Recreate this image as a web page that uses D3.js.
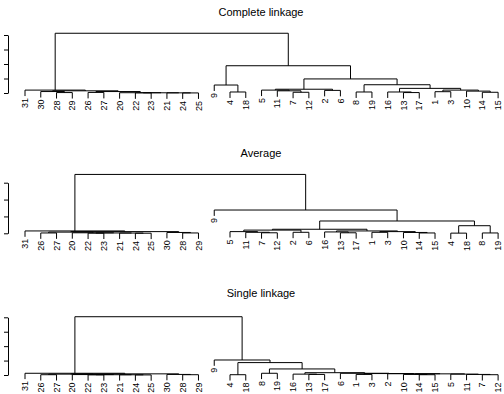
<!DOCTYPE html>
<html>
<head>
<meta charset="utf-8">
<script src="https://cdnjs.cloudflare.com/ajax/libs/d3/7.8.5/d3.min.js"></script>
<style>
  body { margin: 0; background: #fff; }
  text { font-family: "Liberation Sans", Arial, sans-serif; fill: #000; }
</style>
</head>
<body>
<div id="chart"></div>
<script>
// merge tables in the same form as R's hclust: negative = observation, positive = earlier merge row
// each row: [left, right, height]
var completeMerge = [
  [-7, -12, 0.05], [-11, 1, 0.15], [-5, 2, 0.2], [-2, -6, 0.18], [3, 4, 0.26],
  [-8, -19, 0.07], [-13, -17, 0.03], [-16, 7, 0.07], [-1, -3, 0.09], [-14, -15, 0.05],
  [-10, 10, 0.13], [9, 11, 0.2], [8, 12, 0.32], [6, 13, 0.57], [5, 14, 0.97],
  [-4, -18, 0.07], [-9, 16, 0.55], [17, 15, 1.88],
  [-28, -29, 0.03], [-30, 19, 0.1], [-26, -27, 0.04], [-22, -23, 0.01], [-24, -25, 0.005],
  [-21, 23, 0.01], [22, 24, 0.015], [-20, 25, 0.02], [21, 26, 0.1], [20, 27, 0.15],
  [-31, 28, 0.2], [29, 18, 4.12]
];
var completeTicks = [0, 1, 2, 3, 4];

var averageMerge = [
  [-7, -12, 0.03], [-11, 1, 0.06], [-5, 2, 0.1], [-2, -6, 0.06], [3, 4, 0.19],
  [-13, -17, 0.03], [-16, 6, 0.08], [-1, -3, 0.06], [-14, -15, 0.02], [-10, 9, 0.05],
  [8, 10, 0.1], [7, 11, 0.14], [5, 12, 0.24], [-4, -18, 0.01], [-8, -19, 0.02],
  [14, 15, 0.45], [13, 16, 0.73], [-9, 17, 1.38],
  [-26, -27, 0.02], [-22, -23, 0.01], [-24, -25, 0.005], [-21, 21, 0.015], [20, 22, 0.02],
  [-20, 23, 0.03], [19, 24, 0.07], [-28, -29, 0.02], [-30, 26, 0.05], [25, 27, 0.1],
  [-31, 28, 0.14], [29, 18, 3.49]
];
var averageTicks = [0, 1, 2, 3];

var singleMerge = [
  [-13, -17, 0.02], [-16, 1, 0.03], [-1, -3, 0.02], [-14, -15, 0.01], [-10, 4, 0.02],
  [-7, -12, 0.01], [-11, 6, 0.02], [-5, 7, 0.03], [5, 8, 0.04], [-2, 9, 0.045],
  [3, 10, 0.05], [-6, 11, 0.06], [2, 12, 0.08], [-8, -19, 0.06], [14, 13, 0.21],
  [-4, -18, 0.01], [16, 15, 0.43], [-9, 17, 0.52],
  [-26, -27, 0.01], [-22, -23, 0.005], [-24, -25, 0.003], [-21, 21, 0.008], [20, 22, 0.01],
  [-20, 23, 0.015], [19, 24, 0.03], [-28, -29, 0.01], [-30, 26, 0.02], [25, 27, 0.04],
  [-31, 28, 0.06], [29, 18, 2.02]
];
var singleTicks = [0, 0.5, 1, 1.5, 2];

var titles = ["Complete linkage", "Average", "Single linkage"];

var width = 504, height = 394;
var hang = 0.1;

// vertical placement of each panel (title baseline, y of tick 0, y of top tick)
var panels = [
  {title: titles[0], merge: completeMerge, ticks: completeTicks, titleY: 16, yBase: 93, yTop: 35},
  {title: titles[1], merge: averageMerge, ticks: averageTicks, titleY: 157, yBase: 233.3, yTop: 182.7},
  {title: titles[2], merge: singleMerge, ticks: singleTicks, titleY: 297, yBase: 375, yTop: 317.3}
];

var svg = d3.select("#chart").append("svg")
    .attr("width", width)
    .attr("height", height);

/**
 * Leaf order from left to right, walking the merge table from the last row
 */
function leafOrder(merge, k) {
    if (k < 0) return [-k];
    return leafOrder(merge, merge[k-1][0]).concat(leafOrder(merge, merge[k-1][1]));
}

function drawPanel(p) {
    var merge = p.merge;
    var order = leafOrder(merge, merge.length).map(String);
    var maxH = d3.max(merge, function(d) {return d[2];});
    var hangH = hang * maxH;

    var x = d3.scalePoint().domain(order).range([25, 498.1]);
    var y = d3.scaleLinear().domain([0, d3.max(p.ticks)]).range([p.yBase, p.yTop]);

    var g = svg.append("g");

    g.append("text")
        .attr("x", 261)
        .attr("y", p.titleY)
        .attr("text-anchor", "middle")
        .style("font-size", "11px")
        .text(p.title);

    g.append("g")
        .attr("transform", "translate(8,0)")
        .call(d3.axisLeft(y).tickValues(p.ticks).tickSize(4).tickSizeOuter(0).tickFormat(""))
        .call(function(a) {a.selectAll("path,line").attr("stroke", "#000");});

    // x of every merge is the midpoint of its two children
    var nodeX = [];
    function xOf(k) {return k < 0 ? x(String(-k)) : nodeX[k-1];}
    merge.forEach(function(m, i) {nodeX[i] = (xOf(m[0]) + xOf(m[1])) / 2;});

    var segs = [];
    var labels = [];
    merge.forEach(function(m) {
        var h = m[2];
        var ends = [m[0], m[1]].map(function(k) {
            var ky;
            if (k < 0) {
                ky = y(h - hangH);
                labels.push({label: String(-k), x: xOf(k), y: ky});
            } else {
                ky = y(merge[k-1][2]);
            }
            return {x: xOf(k), y: ky};
        });
        segs.push("M" + ends[0].x + "," + ends[0].y + "V" + y(h) + "H" + ends[1].x + "V" + ends[1].y);
    });

    g.selectAll("path.branch").data(segs).enter()
        .append("path")
        .attr("class", "branch")
        .attr("d", function(d) {return d;})
        .attr("fill", "none")
        .attr("stroke", "#000")
        .attr("stroke-width", 1);

    g.selectAll("text.leaf").data(labels).enter()
        .append("text")
        .attr("class", "leaf")
        .attr("transform", function(d) {return "translate(" + d.x + "," + (d.y + 2) + ") rotate(-90)";})
        .attr("text-anchor", "end")
        .attr("dy", "0.35em")
        .style("font-size", "9px")
        .text(function(d) {return d.label;});
}

panels.forEach(drawPanel);
</script>
</body>
</html>
